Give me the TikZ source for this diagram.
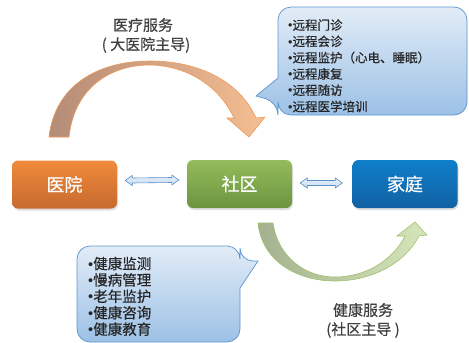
\documentclass[tikz,border=0pt]{standalone}
\usepackage{fontspec}
\newfontfamily\cjk[FakeBold=0.5]{Noto Sans CJK SC}
\newfontfamily\bulletfont{Liberation Sans}
\usetikzlibrary{calc,shadows}
\definecolor{hospTop}{HTML}{F08A3C}
\definecolor{hospBot}{HTML}{C66A2E}
\definecolor{commTop}{HTML}{94BC5B}
\definecolor{commBot}{HTML}{6C9440}
\definecolor{famTop}{HTML}{0E7FC9}
\definecolor{famBot}{HTML}{1361A4}
\definecolor{calloutTop}{HTML}{E2ECF7}
\definecolor{calloutBot}{HTML}{9CC1E6}
\definecolor{calloutLine}{HTML}{5A95CF}
\definecolor{dblFill}{HTML}{C8DBF1}
\definecolor{dblLine}{HTML}{5B8FC8}
\definecolor{labelText}{HTML}{404040}
\definecolor{orLeft}{HTML}{B48C76}
\definecolor{orMid}{HTML}{E0AC88}
\definecolor{orRight}{HTML}{F6BE92}
\definecolor{orLine}{HTML}{EE9A5C}
\definecolor{grLeft}{HTML}{A3B190}
\definecolor{grRight}{HTML}{D6E6BB}
\definecolor{grLine}{HTML}{A2C06A}
\newcommand{\bul}{{\bulletfont •}}
\begin{document}
\begin{tikzpicture}[x=1pt,y=-1pt]
\tikzset{
  box/.style={rounded corners=6pt, minimum width=105pt, minimum height=48pt, inner sep=0pt,
    font=\cjk\fontsize{18}{20}\selectfont, text=white,
    drop shadow={opacity=0.25, shadow xshift=1pt, shadow yshift=-2pt}},
  dblarrow/.style={draw=dblLine, line width=0.6pt, top color=white!60!dblFill, bottom color=dblFill},
  callout/.style={draw=calloutLine, line width=0.7pt, top color=calloutTop, bottom color=calloutBot},
  label/.style={font=\cjk\fontsize{15}{17}\selectfont, text=labelText, inner sep=0pt},
  topitem/.style={font=\cjk\fontsize{12.5}{14}\selectfont, text=black!85, anchor=west, inner sep=0pt},
  botitem/.style={font=\cjk\fontsize{14.5}{16}\selectfont, text=black!85, anchor=west, inner sep=0pt},
  orarrow/.style={draw=orLine, line width=0.6pt, left color=orLeft, middle color=orMid, right color=orRight},
  grarrow/.style={draw=grLine, line width=0.6pt, left color=grLeft, right color=grRight}
}
\useasboundingbox (0,0) rectangle (469,343);

% curved arrows
\path[orarrow] (49,137) .. controls (55,85) and (98,61) .. (150,61)
  .. controls (200,61) and (240,82) .. (256,118) -- (265,117) -- (249,137) -- (227,118) -- (234,118)
  .. controls (220,88) and (190,66) .. (150,65)
  .. controls (108,65) and (74,90) .. (69,137) -- cycle;
\path[grarrow] (258,223) .. controls (262,262) and (298,281) .. (335,281)
  .. controls (372,281) and (405,263) .. (419,236) -- (427,235) -- (415,222) -- (397,236) -- (405,236)
  .. controls (393,260) and (366,277) .. (335,277)
  .. controls (305,277) and (278,257) .. (273,223) -- cycle;

% labels
\node[label] (l1) at (143,25) {医疗服务};
\node[label] (l2) at (146,45) {( 大医院主导)};
\node[label] (l3) at (363,310) {健康服务};
\node[label] (l4) at (363,330) {(社区主导 )};

% boxes
\node[box, top color=hospTop, bottom color=hospBot] (hosp) at (64.5,184.5) {医院};
\node[box, top color=commTop, bottom color=commBot] (comm) at (239.5,184) {社区};
\node[box, top color=famTop, bottom color=famBot] (fam) at (405,184) {家庭};

% double arrows
\coordinate (a1) at ($(hosp.east)+(8,-4)$);
\coordinate (b1) at ($(comm.west)+(-8,-4)$);
\coordinate (a2) at ($(comm.east)+(8,-1)$);
\coordinate (b2) at ($(fam.west)+(-10,-1)$);
\foreach \a/\b in {a1/b1,a2/b2}{
  \path[dblarrow] (\a) -- ($(\a)+(7,-5)$) -- ($(\a)+(7,-2.5)$) -- ($(\b)+(-7,-2.5)$) -- ($(\b)+(-7,-5)$)
    -- (\b) -- ($(\b)+(-7,5)$) -- ($(\b)+(-7,2.5)$) -- ($(\a)+(7,2.5)$) -- ($(\a)+(7,5)$) -- cycle;
}

% callouts
\path[callout] (372,7) [rounded corners=13pt] -- (467,7) -- (467,115) -- (278,115) -- (278,102)
  [sharp corners] -- (256,96) -- (278,78) [rounded corners=13pt] -- (278,7) -- cycle;
\path[callout] (160,246) [rounded corners=13pt] -- (240,246) -- (240,261)
  [sharp corners] -- (258,261) -- (240,288) [rounded corners=13pt] -- (240,342) -- (77,342) -- (77,246) -- cycle;

\foreach \t [count=\i] in {远程门诊,远程会诊,远程监护（心电、睡眠）,远程康复,远程随访,远程医学培训}{
  \node[topitem] (t\i) at (288,{25+16.3*(\i-1)}) {\bul\t};
}
\foreach \t [count=\i] in {健康监测,慢病管理,老年监护,健康咨询,健康教育}{
  \node[botitem] (s\i) at (88,{263.5+16.4*(\i-1)}) {\bul\t};
}
\end{tikzpicture}
\end{document}
